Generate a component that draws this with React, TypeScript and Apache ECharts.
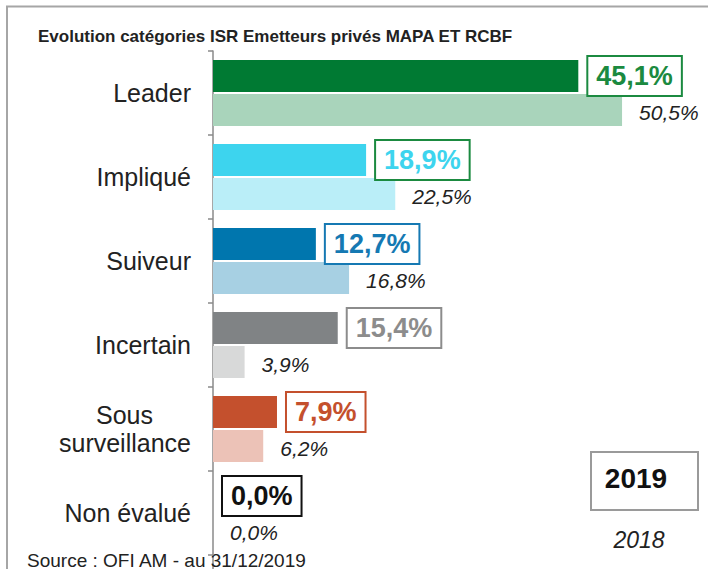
import React, { useEffect, useRef } from "react";
import * as echarts from "echarts";

const categories = ["Leader", "Impliqué", "Suiveur", "Incertain", "Sous surveillance", "Non évalué"];
const values2019 = [45.1, 18.9, 12.7, 15.4, 7.9, 0.0];
const values2018 = [50.5, 22.5, 16.8, 3.9, 6.2, 0.0];
const colors2019 = ["#007a33", "#3dd4ee", "#0076ae", "#808385", "#c4502d", "#000000"];
const colors2018 = ["#a9d4bb", "#baeef8", "#a7d0e3", "#d8d9d9", "#ecc2b7", "#000000"];
const labelColors2019 = ["#1b8a40", "#3dd4ee", "#1579b3", "#8c8c8c", "#c4502d", "#111111"];
const boxColors2019 = ["#1b8a40", "#1b8a40", "#1579b3", "#8c8c8c", "#c4502d", "#111111"];
const seriesNames = ["2019", "2018"];
const titleText = "Evolution catégories ISR Emetteurs privés MAPA ET RCBF";
const sourceText = "Source : OFI AM - au 31/12/2019";

const FONT = "'Liberation Sans', Arial, Helvetica, sans-serif";
const fmt = (v: number) => v.toFixed(1).replace(".", ",") + "%";

export default function App() {
  const ref = useRef<HTMLDivElement>(null);
  useEffect(() => {
    if (!ref.current) return;
    const chart = echarts.init(ref.current, null, { renderer: "svg" });
    chart.setOption({
      animation: false,
      backgroundColor: "#ffffff",
      textStyle: { fontFamily: FONT },
      title: {
        text: titleText,
        left: 33,
        top: 23,
        textStyle: { fontSize: 17, fontWeight: "bold", color: "#222", fontFamily: FONT },
      },
      grid: { left: 213, right: 9, top: 51, height: 504 },
      xAxis: {
        type: "value",
        min: 0,
        max: 60,
        show: false,
      },
      yAxis: {
        type: "category",
        inverse: true,
        data: categories,
        axisLine: { show: true, lineStyle: { color: "#8a8a8a", width: 1.5 } },
        axisTick: { show: true, length: 5, lineStyle: { color: "#8a8a8a", width: 1.5 } },
        axisLabel: {
          margin: 22,
          fontSize: 25,
          color: "#222",
          fontFamily: FONT,
          lineHeight: 28,
          formatter: (v: string) => {
            if (v === "Sous surveillance") return "{a|Sous}\n{b|surveillance}";
            return v;
          },
          rich: {
            a: { fontSize: 25, color: "#222", fontFamily: FONT, lineHeight: 28, padding: [0, 38, 0, 0] },
            b: { fontSize: 25, color: "#222", fontFamily: FONT, lineHeight: 28 },
          },
        },
      },
      series: [
        {
          name: seriesNames[0],
          type: "bar",
          barWidth: 32,
          barGap: "6%",
          data: values2019.map((v, i) => ({
            value: v,
            itemStyle: { color: colors2019[i] },
            label: { color: labelColors2019[i], borderColor: boxColors2019[i] },
          })),
          label: {
            show: true,
            position: "right",
            distance: 10,
            formatter: (p: any) => fmt(p.value),
            fontSize: 27,
            fontWeight: "bold",
            fontFamily: FONT,
            borderWidth: 2,
            padding: [6, 8, 5, 8],
            lineHeight: 27,
            backgroundColor: "#ffffff",
          },
        },
        {
          name: seriesNames[1],
          type: "bar",
          barWidth: 32,
          data: values2018.map((v, i) => ({ value: v, itemStyle: { color: colors2018[i] } })),
          label: {
            show: true,
            position: "right",
            distance: 17,
            offset: [0, 3],
            formatter: (p: any) => fmt(p.value),
            fontSize: 21,
            fontStyle: "italic",
            color: "#222",
            fontFamily: FONT,
          },
        },
      ],
      graphic: [
        {
          type: "polyline",
          shape: { points: [[7, 569], [7, 6.5], [708, 6.5]] },
          style: { stroke: "#a6a6a6", lineWidth: 2, fill: "none" },
          silent: true,
        },
        {
          type: "line",
          shape: { x1: 213, y1: 555, x2: 213, y2: 569 },
          style: { stroke: "#8a8a8a", lineWidth: 1.5 },
          silent: true,
        },
        {
          type: "rect",
          shape: { x: 591, y: 452, width: 107, height: 58 },
          style: { stroke: "#9a9a9a", lineWidth: 2, fill: "#ffffff" },
          silent: true,
        },
        {
          type: "text",
          x: 636,
          y: 478,
          style: {
            text: seriesNames[0],
            fontSize: 28,
            fontWeight: "bold",
            fontFamily: FONT,
            fill: "#111",
            align: "center",
            verticalAlign: "middle",
          },
          silent: true,
        },
        {
          type: "text",
          x: 639,
          y: 540,
          style: {
            text: seriesNames[1],
            fontSize: 23,
            fontStyle: "italic",
            fontFamily: FONT,
            fill: "#222",
            align: "center",
            verticalAlign: "middle",
          },
          silent: true,
        },
        {
          type: "text",
          x: 27,
          y: 560,
          style: {
            text: sourceText,
            fontSize: 19,
            fontFamily: FONT,
            fill: "#222",
            align: "left",
            verticalAlign: "middle",
          },
          silent: true,
        },
      ],
    });
    return () => chart.dispose();
  }, []);
  return (
    <div style={{ position: "fixed", left: 0, top: 0, width: 708, height: 569, background: "#fff" }}>
      <div ref={ref} style={{ width: 708, height: 569 }} />
    </div>
  );
}
